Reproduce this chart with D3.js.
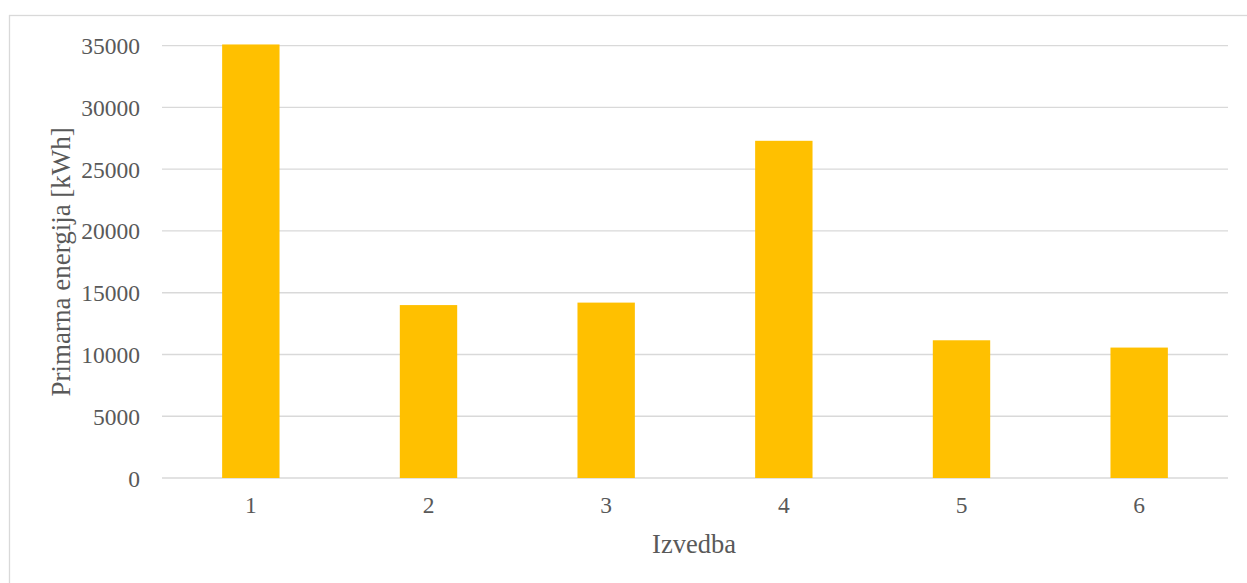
<!DOCTYPE html>
<html>
<head>
<meta charset="utf-8">
<script src="https://cdn.jsdelivr.net/npm/d3@7"></script>
<style>
  html, body { margin: 0; padding: 0; background: #fff; }
  svg { display: block; }
</style>
</head>
<body>
<svg id="chart" width="1247" height="583"></svg>
<script>
const categories = ["1", "2", "3", "4", "5", "6"];
const values = [35100, 14000, 14200, 27300, 11150, 10560];
const yTicks = [0, 5000, 10000, 15000, 20000, 25000, 30000, 35000];
const xTitle = "Izvedba";
const yTitle = "Primarna energija [kWh]";

const svg = d3.select("#chart");
const W = 1247, H = 583;
const plot = { left: 162, right: 1228, top: 45.7, bottom: 478 };
const font = "'Liberation Serif', 'Times New Roman', serif";
const textColor = "#595959";

// outer frame
svg.append("rect")
  .attr("x", 9.5).attr("y", 15.5)
  .attr("width", W + 20).attr("height", H + 20)
  .attr("fill", "#fff").attr("stroke", "#D9D9D9").attr("stroke-width", 1.3);

const x = d3.scaleBand().domain(categories)
  .range([plot.left, plot.right])
  .paddingInner(0.677).paddingOuter(0.677 / 2);
const y = d3.scaleLinear().domain([0, 35000]).range([plot.bottom, plot.top]);

// gridlines
svg.append("g").selectAll("line").data(yTicks).join("line")
  .attr("x1", plot.left).attr("x2", plot.right)
  .attr("y1", d => y(d)).attr("y2", d => y(d))
  .attr("stroke", "#D9D9D9").attr("stroke-width", 1.3);

// bars
svg.append("g").selectAll("rect").data(values).join("rect")
  .attr("x", (d, i) => x(categories[i]))
  .attr("width", x.bandwidth())
  .attr("y", d => y(d))
  .attr("height", d => y(0) - y(d))
  .attr("fill", "#FFC000");

// y axis
const yAxis = d3.axisLeft(y).tickValues(yTicks).tickSize(0).tickPadding(22)
  .tickFormat(d3.format("d"));
const gy = svg.append("g").attr("transform", `translate(${plot.left},0)`).call(yAxis);
gy.select(".domain").remove();
gy.selectAll("text").attr("font-family", font).attr("font-size", 23.5)
  .attr("fill", textColor).attr("dy", "0.34em");

// x axis
const xAxis = d3.axisBottom(x).tickSize(0).tickPadding(18);
const gx = svg.append("g").attr("transform", `translate(0,${plot.bottom})`).call(xAxis);
gx.select(".domain").remove();
gx.selectAll("text").attr("font-family", font).attr("font-size", 23.5).attr("fill", textColor);

// titles
svg.append("text")
  .attr("x", (plot.left + plot.right) / 2 - 1).attr("y", 553)
  .attr("text-anchor", "middle")
  .attr("font-family", font).attr("font-size", 26.5).attr("fill", textColor)
  .text(xTitle);

svg.append("text")
  .attr("transform", `translate(70,${(plot.top + plot.bottom) / 2}) rotate(-90)`)
  .attr("text-anchor", "middle")
  .attr("font-family", font).attr("font-size", 27).attr("fill", textColor)
  .text(yTitle);
</script>
</body>
</html>
